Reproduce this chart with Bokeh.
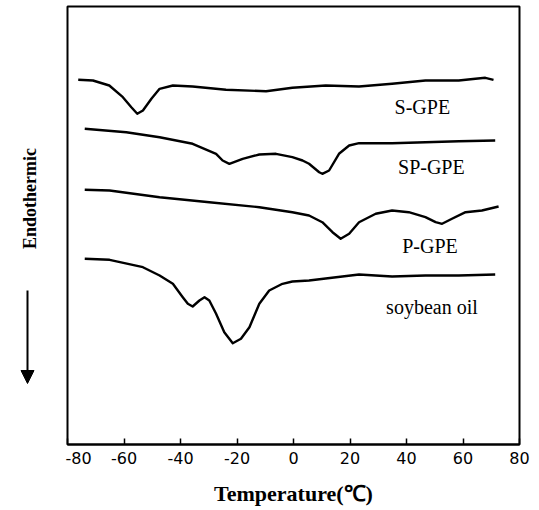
import math
from bokeh.plotting import figure
from bokeh.layouts import row
from bokeh.models import Label, Arrow, NormalHead, FixedTicker, Range1d
from bokeh.core.properties import value
from bokeh.embed import file_html
from bokeh.resources import INLINE

# Temperature (°C) and heat-flow (arbitrary units, endothermic down)
s_gpe_t = [-76.2, -71.0, -65.2, -60.4, -57.4, -55.3, -53.3, -50.3, -47.4, -42.7, -35.7,
           -23.9, -9.7, -0.4, 11.4, 23.2, 34.9, 46.7, 58.5, 64.4, 67.9, 70.8]
s_gpe_h = [36.57, 36.5, 36.0, 34.83, 33.83, 33.17, 33.5, 34.67, 35.67, 36.0, 35.9,
           35.57, 35.43, 35.77, 36.0, 35.9, 36.17, 36.5, 36.5, 36.67, 36.77, 36.57]

sp_gpe_t = [-73.9, -59.2, -47.4, -35.7, -27.4, -25.1, -22.7, -18.0, -12.1, -6.2, -0.4,
            3.2, 5.5, 9.1, 10.2, 12.6, 16.1, 19.7, 23.2, 34.9, 46.7, 58.5, 71.4]
sp_gpe_h = [31.67, 31.33, 30.83, 30.17, 29.17, 28.5, 28.17, 28.67, 29.1, 29.17, 28.83,
            28.5, 28.17, 27.33, 27.17, 27.5, 29.17, 30.0, 30.23, 30.23, 30.33, 30.43, 30.5]

p_gpe_t = [-73.9, -65.1, -47.4, -29.8, -12.1, -0.4, 5.5, 10.2, 13.8, 16.7, 19.7, 23.2,
           29.1, 34.9, 40.8, 46.7, 50.3, 52.6, 56.1, 60.9, 66.7, 72.6]
p_gpe_h = [25.57, 25.5, 24.83, 24.33, 23.83, 23.33, 23.0, 22.33, 21.33, 20.67, 21.17, 22.33,
           23.17, 23.5, 23.33, 22.83, 22.33, 22.17, 22.67, 23.33, 23.5, 23.9]

soy_t = [-73.9, -65.1, -53.3, -47.4, -42.7, -39.2, -37.4, -35.7, -33.3, -31.5, -29.8,
         -27.4, -24.5, -21.5, -18.6, -15.6, -12.1, -8.6, -3.9, -0.4, 5.5, 17.3, 23.2,
         34.9, 46.7, 58.5, 71.4]
soy_h = [18.67, 18.57, 17.83, 17.0, 16.17, 14.83, 14.17, 13.9, 14.5, 14.83, 14.5,
         13.17, 11.33, 10.23, 10.67, 11.83, 14.17, 15.5, 16.17, 16.4, 16.5, 16.9, 17.1,
         16.9, 17.0, 17.0, 17.1]

series_labels = ["S-GPE", "SP-GPE", "P-GPE", "soybean oil"]
label_x = [45.6, 48.8, 48.3, 49.0]
label_y = [33.85, 27.85, 19.95, 13.9]
x_ticks = [-80, -60, -40, -20, 0, 20, 40, 60, 80]
y_title = "Endothermic"
x_title = "Temperature(℃)"

# --- left strip with the rotated y title and the arrow ---
# its frame is aligned with the main frame (page y 6..444); units = 510 - page y
side = figure(width=65, height=510, output_backend="svg", toolbar_location=None,
              x_range=Range1d(0, 65), y_range=Range1d(66, 504),
              min_border_left=0, min_border_right=0, min_border_top=6, min_border_bottom=66)
side.axis.visible = False
side.grid.visible = False
side.outline_line_color = None
side.background_fill_color = "white"
side.border_fill_color = "white"
side.text(x=[29.5], y=[312], text=[y_title], angle=math.pi / 2,
          text_align="center", text_baseline="middle",
          text_font=value("Liberation Serif"), text_font_style="bold",
          text_font_size="18px", text_color="black")
side.add_layout(Arrow(x_start=27, y_start=220, x_end=27, y_end=127,
                      line_color="black", line_width=2,
                      end=NormalHead(size=13, fill_color="black", line_color="black")))

# --- main DSC plot ---
p = figure(width=474, height=510, output_backend="svg", toolbar_location=None,
           x_range=Range1d(-80, 80), y_range=Range1d(0.1, 43.9),
           min_border_left=2, min_border_right=20, min_border_top=6, min_border_bottom=66)
p.background_fill_color = "white"
p.border_fill_color = "white"
p.outline_line_color = "black"
p.outline_line_width = 2
p.xgrid.visible = False
p.ygrid.visible = False
p.yaxis.visible = False

ax = p.xaxis[0]
ax.ticker = FixedTicker(ticks=x_ticks)
ax.major_label_overrides = {t: str(t) for t in x_ticks}
ax.major_tick_in = 6
ax.major_tick_out = 0
ax.major_tick_line_width = 1.5
ax.minor_tick_line_color = None
ax.axis_line_width = 2
ax.major_label_text_font = "DejaVu Sans"
ax.major_label_text_font_size = "16px"
ax.major_label_text_color = "black"
ax.major_label_standoff = 7
ax.axis_label = x_title
ax.axis_label_text_font = "Liberation Serif"
ax.axis_label_text_font_style = "bold"
ax.axis_label_text_font_size = "22px"
ax.axis_label_text_color = "black"
ax.axis_label_standoff = 14

for t, h in [(s_gpe_t, s_gpe_h), (sp_gpe_t, sp_gpe_h), (p_gpe_t, p_gpe_h), (soy_t, soy_h)]:
    p.line(t, h, line_color="black", line_width=2.4, line_join="round")

for txt, lx, ly in zip(series_labels, label_x, label_y):
    p.add_layout(Label(x=lx, y=ly, text=txt, text_align="center", text_baseline="middle",
                       text_font="Liberation Serif", text_font_size="20px", text_color="black"))

layout = row(side, p, spacing=0)
open("out.html", "w").write(file_html(layout, INLINE))
